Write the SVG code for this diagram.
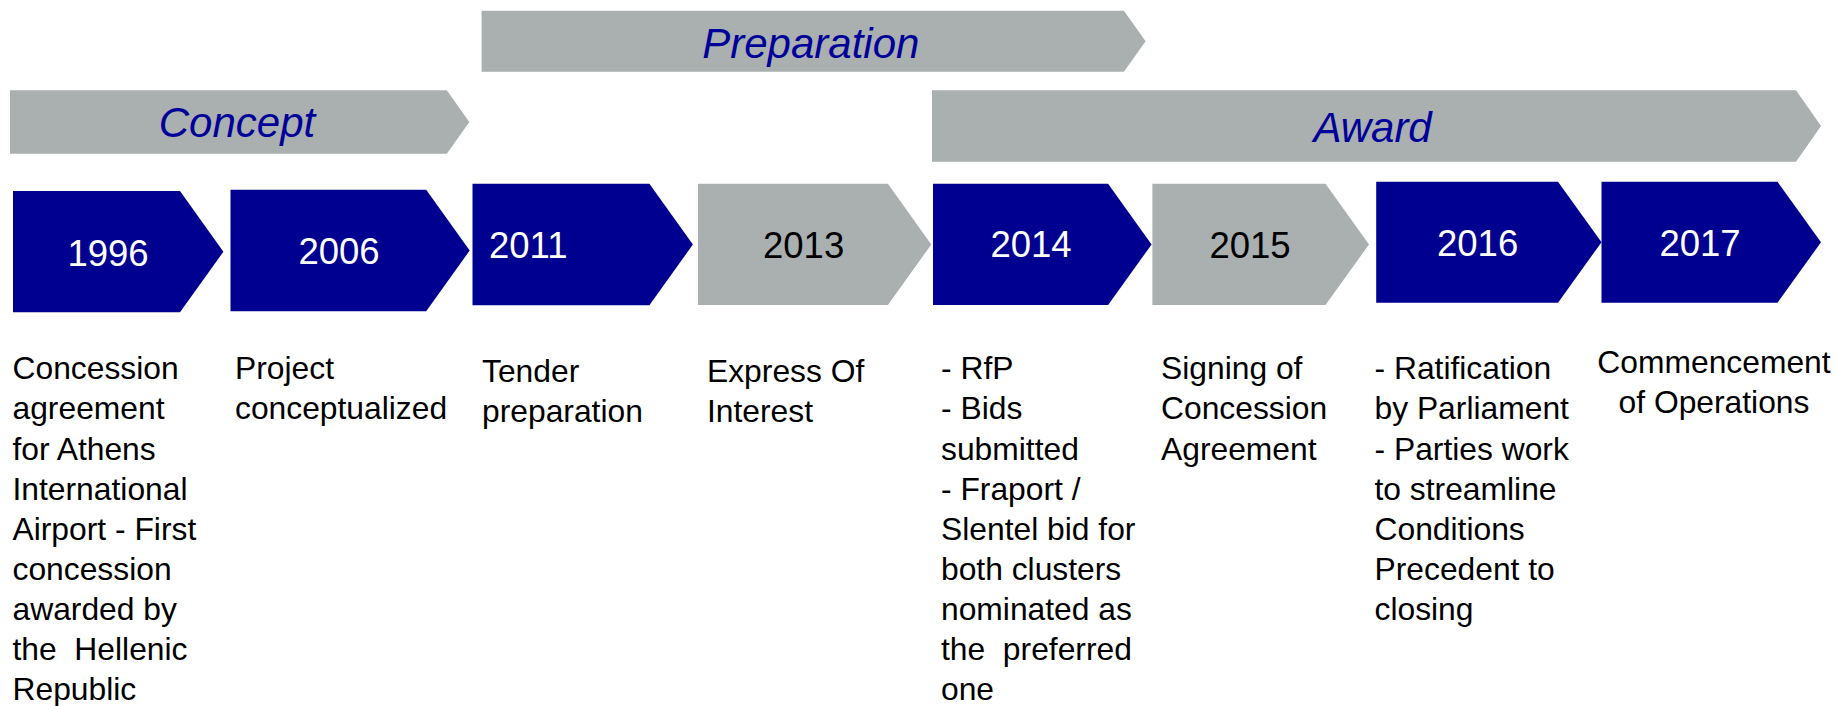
<svg xmlns="http://www.w3.org/2000/svg" width="1838" height="706" viewBox="0 0 1838 706">
<style>
.gray{fill:#AAAFAF}
.blue{fill:#000090}
.phase{font-family:"Liberation Sans",Arial,sans-serif;font-style:italic;font-size:42px;fill:#00009A;text-anchor:middle}
.yr{font-family:"Liberation Sans",Arial,sans-serif;font-size:36.5px;text-anchor:middle}
.yw{fill:#FFFFFF}
.yk{fill:#000000}
.desc{font-family:"Liberation Sans",Arial,sans-serif;font-size:31.8px;fill:#000000;white-space:pre}
</style>
<rect width="1838" height="706" fill="#FFFFFF"/>
<g id="phase-concept">
<polygon class="gray" points="10,90.3 446.8,90.3 469.3,122 446.8,153.7 10,153.7"/>
<text class="phase" x="237" y="137">Concept</text>
</g>
<g id="phase-preparation">
<polygon class="gray" points="481.6,10.7 1123.9,10.7 1145.6,41.2 1123.9,71.7 481.6,71.7"/>
<text class="phase" x="810.8" y="58.3">Preparation</text>
</g>
<g id="phase-award">
<polygon class="gray" points="932,90.3 1796,90.3 1821,126 1796,161.7 932,161.7"/>
<text class="phase" x="1372.6" y="141.7">Award</text>
</g>
<g id="y1996">
<polygon class="blue" points="13,191 180,191 223.4,251.7 180,312.3 13,312.3"/>
<text class="yr yw" x="108" y="265.7">1996</text>
</g>
<g id="y2006">
<polygon class="blue" points="230.5,189.7 426.2,189.7 469.7,250.5 426.2,311.3 230.5,311.3"/>
<text class="yr yw" x="339" y="264">2006</text>
</g>
<g id="y2011">
<polygon class="blue" points="472.5,183.7 649.4,183.7 692.9,244.5 649.4,305.3 472.5,305.3"/>
<text class="yr yw" x="489" y="258.3" style="text-anchor:start">2011</text>
</g>
<g id="y2013">
<polygon class="gray" points="698,183.7 887.9,183.7 931.3,244.4 887.9,305 698,305"/>
<text class="yr yk" x="803.6" y="258.3">2013</text>
</g>
<g id="y2014">
<polygon class="blue" points="933,183.7 1108.1,183.7 1151.6,244.4 1108.1,305 933,305"/>
<text class="yr yw" x="1031" y="257.3">2014</text>
</g>
<g id="y2015">
<polygon class="gray" points="1152.4,183.7 1325.5,183.7 1369,244.4 1325.5,305 1152.4,305"/>
<text class="yr yk" x="1250" y="258.3">2015</text>
</g>
<g id="y2016">
<polygon class="blue" points="1376.2,181.7 1558,181.7 1601.5,242.2 1558,302.7 1376.2,302.7"/>
<text class="yr yw" x="1477.6" y="255.7">2016</text>
</g>
<g id="y2017">
<polygon class="blue" points="1601.5,181.7 1777.5,181.7 1821,242.2 1777.5,302.7 1601.5,302.7"/>
<text class="yr yw" x="1700" y="255.7">2017</text>
</g>
<g id="d1996">
<text class="desc" x="12.5" y="379.3">Concession</text>
<text class="desc" x="12.5" y="419.4">agreement</text>
<text class="desc" x="12.5" y="459.5">for Athens</text>
<text class="desc" x="12.5" y="499.6">International</text>
<text class="desc" x="12.5" y="539.7">Airport - First</text>
<text class="desc" x="12.5" y="579.8">concession</text>
<text class="desc" x="12.5" y="619.9">awarded by</text>
<text class="desc" x="12.5" y="660">the  Hellenic</text>
<text class="desc" x="12.5" y="700.1">Republic</text>
</g>
<g id="d2006">
<text class="desc" x="235" y="379.3">Project</text>
<text class="desc" x="235" y="419.4">conceptualized</text>
</g>
<g id="d2011">
<text class="desc" x="482" y="382.3">Tender</text>
<text class="desc" x="482" y="422.3">preparation</text>
</g>
<g id="d2013">
<text class="desc" x="707" y="382.3">Express Of</text>
<text class="desc" x="707" y="422.3">Interest</text>
</g>
<g id="d2014">
<text class="desc" x="941" y="379.3">- RfP</text>
<text class="desc" x="941" y="419.4">- Bids</text>
<text class="desc" x="941" y="459.5">submitted</text>
<text class="desc" x="941" y="499.6">- Fraport /</text>
<text class="desc" x="941" y="539.7">Slentel bid for</text>
<text class="desc" x="941" y="579.8">both clusters</text>
<text class="desc" x="941" y="619.9">nominated as</text>
<text class="desc" x="941" y="660">the  preferred</text>
<text class="desc" x="941" y="700.1">one</text>
</g>
<g id="d2015">
<text class="desc" x="1161" y="379.3">Signing of</text>
<text class="desc" x="1161" y="419.4">Concession</text>
<text class="desc" x="1161" y="459.5">Agreement</text>
</g>
<g id="d2016">
<text class="desc" x="1374.5" y="379.3">- Ratification</text>
<text class="desc" x="1374.5" y="419.4">by Parliament</text>
<text class="desc" x="1374.5" y="459.5">- Parties work</text>
<text class="desc" x="1374.5" y="499.6">to streamline</text>
<text class="desc" x="1374.5" y="539.7">Conditions</text>
<text class="desc" x="1374.5" y="579.8">Precedent to</text>
<text class="desc" x="1374.5" y="619.9">closing</text>
</g>
<g id="d2017">
<text class="desc" x="1714" y="373.3" text-anchor="middle">Commencement</text>
<text class="desc" x="1714" y="412.7" text-anchor="middle">of Operations</text>
</g>
<g id="connectors"></g>
</svg>
